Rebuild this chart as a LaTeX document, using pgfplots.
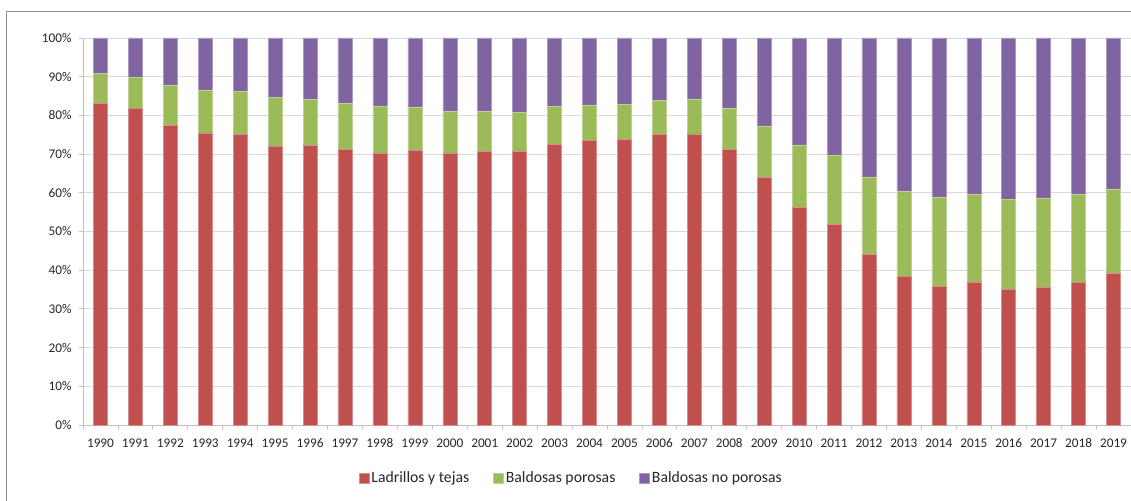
\documentclass[border=0pt]{standalone}
\usepackage{pgfplots}
\pgfplotsset{compat=1.18}
\usepackage{fontspec}
\setmainfont{Carlito}
\definecolor{cred}{HTML}{C0504D}
\definecolor{cgreen}{HTML}{9BBB59}
\definecolor{cpurple}{HTML}{8064A2}
\definecolor{cgrid}{HTML}{D9D9D9}
\definecolor{caxis}{HTML}{BFBFBF}
\definecolor{cframe}{HTML}{8C8C8C}
\definecolor{ctext}{HTML}{262626}
\pgfplotstableread{
x red green purple
0 83.1 7.7 9.2
1 81.8 8.1 10.1
2 77.5 10.2 12.3
3 75.5 11.1 13.4
4 75.1 11.2 13.7
5 72.1 12.5 15.4
6 72.3 11.8 15.9
7 71.3 11.9 16.8
8 70.3 12.0 17.7
9 70.9 11.3 17.8
10 70.3 10.7 19.0
11 70.7 10.3 19.0
12 70.7 10.1 19.2
13 72.5 9.9 17.6
14 73.5 9.2 17.3
15 73.9 9.1 17.0
16 75.0 8.9 16.1
17 75.2 9.1 15.7
18 71.3 10.6 18.1
19 63.9 13.4 22.7
20 56.2 16.2 27.6
21 51.8 17.9 30.3
22 44.0 20.1 35.9
23 38.5 21.9 39.6
24 35.9 23.0 41.1
25 37.0 22.6 40.4
26 35.0 23.3 41.7
27 35.5 23.2 41.3
28 36.9 22.7 40.4
29 39.1 21.8 39.1
}\datatable
\begin{document}
\begin{tikzpicture}
\path[use as bounding box] (-83bp,-76bp) rectangle (1048bp,425bp);
\draw[cframe, line width=1bp] (-76bp,-80bp) -- (-76bp,413bp) -- (1060bp,413bp);
\begin{axis}[
  at={(0,0)}, anchor=south west,
  scale only axis, width=1048bp, height=387bp,
  ybar stacked, bar width=14bp,
  xmin=-0.5, xmax=29.5, ymin=0, ymax=100,
  axis lines*=left,
  axis line style={draw=caxis, line width=0.8bp, -},
  ymajorgrids, grid style={draw=cgrid, line width=0.8bp},
  ytick={0,10,...,100},
  yticklabels={0\%,10\%,20\%,30\%,40\%,50\%,60\%,70\%,80\%,90\%,100\%},
  xtick={0,...,29},
  xticklabels={1990,1991,1992,1993,1994,1995,1996,1997,1998,1999,2000,2001,2002,2003,2004,2005,2006,2007,2008,2009,2010,2011,2012,2013,2014,2015,2016,2017,2018,2019},
  major x tick style={draw=none},
  minor xtick={-0.5,0.5,...,29.5},
  tick align=outside, major tick length=4bp, minor tick length=4bp,
  tick style={draw=caxis, line width=0.8bp},
  tick label style={font=\fontsize{13.3}{16}\selectfont, text=ctext},
  yticklabel style={xshift=-4bp},
  xticklabel style={yshift=-6bp},
  legend columns=3,
  legend style={at={(0.466,-0.137)}, anchor=center, draw=none,
    font=\fontsize{15.8}{19}\selectfont, text=ctext,
    nodes={inner xsep=2bp},
    /tikz/every even column/.append style={column sep=22bp}},
  legend image code/.code={\fill[#1] (0bp,-5bp) rectangle (10bp,5bp);},
]
\addplot[fill=cred, draw=cred!65!white, line width=0.5bp] table[x=x,y=red] {\datatable};
\addplot[fill=cgreen, draw=cgreen!65!white, line width=0.5bp] table[x=x,y=green] {\datatable};
\addplot[fill=cpurple, draw=cpurple!65!white, line width=0.5bp] table[x=x,y=purple] {\datatable};
\legend{Ladrillos y tejas, Baldosas porosas, Baldosas no porosas}
\end{axis}
\end{tikzpicture}
\end{document}
